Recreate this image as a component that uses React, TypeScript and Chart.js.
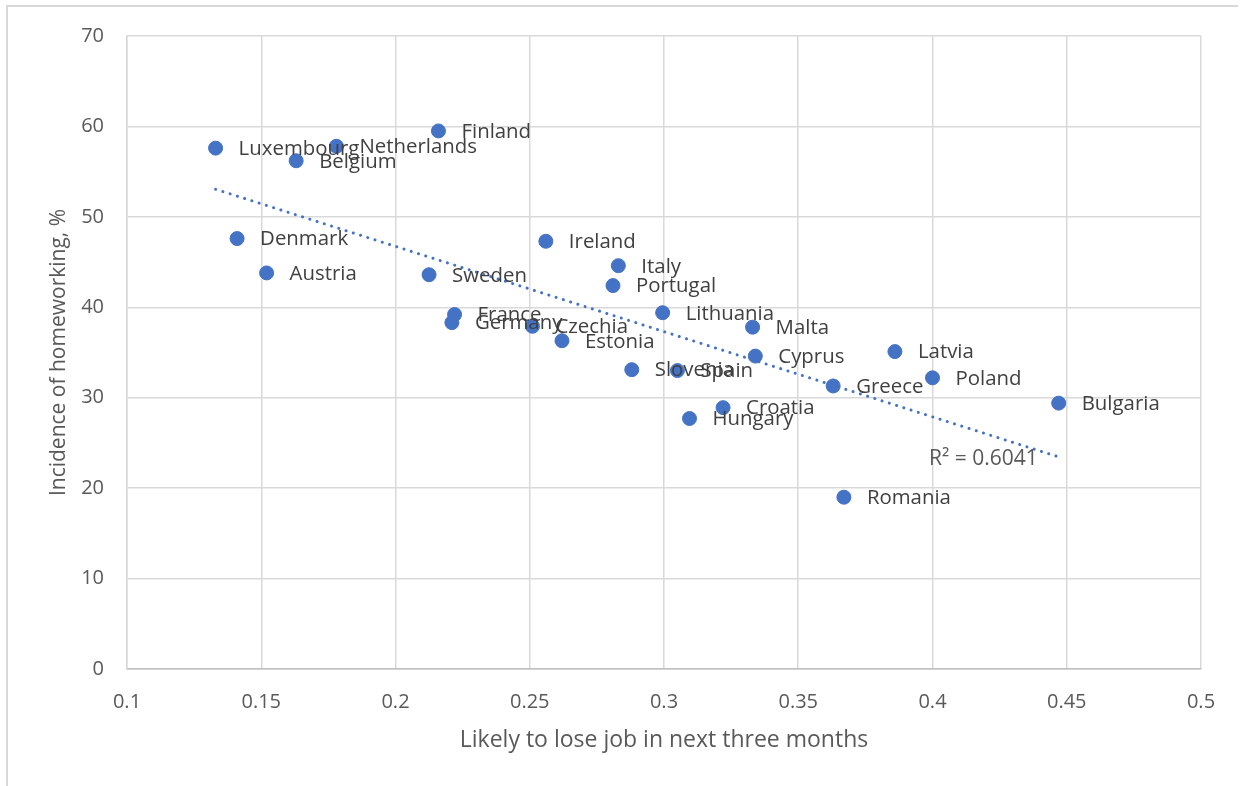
import React, { useEffect, useRef } from "react";
import { Chart, registerables } from "chart.js";

Chart.register(...registerables);

const countries = [
  "Luxembourg", "Netherlands", "Belgium", "Finland", "Denmark", "Austria",
  "Sweden", "Ireland", "Italy", "Portugal", "France", "Germany", "Czechia",
  "Estonia", "Lithuania", "Malta", "Cyprus", "Slovenia", "Spain", "Croatia",
  "Hungary", "Greece", "Latvia", "Poland", "Bulgaria", "Romania",
];
const jobLossRisk = [
  0.133, 0.178, 0.163, 0.216, 0.141, 0.152,
  0.2125, 0.256, 0.283, 0.281, 0.222, 0.221, 0.251,
  0.262, 0.2995, 0.333, 0.334, 0.288, 0.305, 0.322,
  0.3095, 0.363, 0.386, 0.400, 0.447, 0.367,
];
const homeworking = [
  57.6, 57.8, 56.2, 59.5, 47.6, 43.8,
  43.6, 47.3, 44.6, 42.4, 39.2, 38.3, 37.9,
  36.3, 39.4, 37.8, 34.6, 33.1, 33.0, 28.9,
  27.7, 31.3, 35.1, 32.2, 29.4, 19.0,
];
const xTicks = [0.1, 0.15, 0.2, 0.25, 0.3, 0.35, 0.4, 0.45, 0.5];
const yTicks = [0, 10, 20, 30, 40, 50, 60, 70];
const xTitle = "Likely to lose job in next three months";
const yTitle = "Incidence of homeworking, %";
const r2Label = "R² = 0.6041";

const FONT = "'Open Sans', sans-serif";
const BLUE = "#4472C4";

function linearFit(xs: number[], ys: number[]) {
  const n = xs.length;
  const mx = xs.reduce((a, b) => a + b, 0) / n;
  const my = ys.reduce((a, b) => a + b, 0) / n;
  let sxy = 0, sxx = 0;
  for (let i = 0; i < n; i++) {
    sxy += (xs[i] - mx) * (ys[i] - my);
    sxx += (xs[i] - mx) * (xs[i] - mx);
  }
  const slope = sxy / sxx;
  return { slope, intercept: my - slope * mx };
}

export default function App() {
  const ref = useRef<HTMLCanvasElement | null>(null);

  useEffect(() => {
    if (!ref.current) return;
    const fit = linearFit(jobLossRisk, homeworking);
    const minX = Math.min(...jobLossRisk);
    const maxX = Math.max(...jobLossRisk);
    const trend = [
      { x: minX, y: fit.intercept + fit.slope * minX },
      { x: maxX, y: fit.intercept + fit.slope * maxX },
    ];

    const labelPlugin = {
      id: "pointLabels",
      afterDatasetsDraw(chart: any) {
        const ctx = chart.ctx;
        ctx.save();
        ctx.font = `20.4px ${FONT}`;
        ctx.fillStyle = "#404040";
        ctx.textBaseline = "middle";
        ctx.textAlign = "left";
        const meta = chart.getDatasetMeta(1);
        meta.data.forEach((pt: any, i: number) => {
          ctx.fillText(countries[i], pt.x + 23, pt.y + 1);
        });
        const tmeta = chart.getDatasetMeta(0);
        const end = tmeta.data[1];
        ctx.font = `21px ${FONT}`;
        ctx.textAlign = "right";
        ctx.fillStyle = "#595959";
        ctx.fillText(r2Label, end.x - 21, end.y + 2);
        ctx.restore();
      },
    };

    const chart = new Chart(ref.current, {
      type: "scatter",
      data: {
        datasets: [
          {
            type: "line",
            data: trend,
            borderColor: BLUE,
            borderWidth: 3,
            borderDash: [0.1, 7.5],
            borderCapStyle: "round",
            pointRadius: 0,
            fill: false,
            order: 0,
          } as any,
          {
            data: jobLossRisk.map((x, i) => ({ x, y: homeworking[i] })),
            backgroundColor: BLUE,
            borderColor: BLUE,
            pointRadius: 7,
            pointBorderWidth: 1,
            order: 1,
          },
        ],
      },
      options: {
        animation: false,
        responsive: false,
        devicePixelRatio: 1,
        layout: { padding: { left: 0, top: 36, right: 44, bottom: 0 } },
        plugins: { legend: { display: false }, tooltip: { enabled: false } },
        scales: {
          x: {
            type: "linear",
            min: 0.1,
            max: 0.5,
            afterBuildTicks: (axis: any) => {
              axis.ticks = xTicks.map((v) => ({ value: v }));
            },
            afterFit: (axis: any) => {
              axis.height = 117;
            },
            grid: { color: "#d9d9d9", lineWidth: 1.5, drawTicks: false },
            border: { color: "#bfbfbf", width: 1.5 },
            ticks: {
              padding: 21,
              color: "#595959",
              font: { family: FONT, size: 20 },
              callback: (v: any) => String(Number(Number(v).toFixed(2))),
            },
            title: {
              display: true,
              text: xTitle,
              color: "#595959",
              font: { family: FONT, size: 23 },
              padding: { bottom: 32, top: 0 },
            },
          },
          y: {
            type: "linear",
            min: 0,
            max: 70,
            afterBuildTicks: (axis: any) => {
              axis.ticks = yTicks.map((v) => ({ value: v }));
            },
            afterFit: (axis: any) => {
              axis.width = 127;
            },
            grid: { color: "#d9d9d9", lineWidth: 1.5, drawTicks: false },
            border: { color: "#d9d9d9", width: 1.5 },
            ticks: {
              padding: 23,
              color: "#595959",
              font: { family: FONT, size: 20 },
            },
            title: {
              display: true,
              text: yTitle,
              color: "#595959",
              font: { family: FONT, size: 21 },
              padding: { top: 46, bottom: 0 },
            },
          },
        },
      },
      plugins: [labelPlugin],
    });
    return () => chart.destroy();
  }, []);

  return (
    <div style={{ position: "fixed", left: 0, top: 0, width: 1245, height: 786, background: "#fff", overflow: "hidden" }}>
      <div
        style={{
          position: "absolute",
          left: 6,
          top: 5,
          width: 1230,
          height: 800,
          borderLeft: "2px solid #d9d9d9",
          borderTop: "2px solid #d9d9d9",
        }}
      />
      <canvas ref={ref} width={1245} height={786} style={{ position: "absolute", left: 0, top: 0, width: 1245, height: 786 }} />
    </div>
  );
}
